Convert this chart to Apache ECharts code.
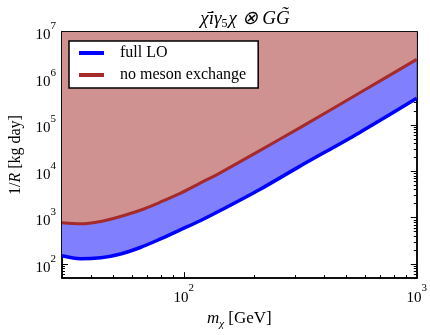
<!DOCTYPE html>
<html>
<head>
<meta charset="utf-8">
<script src="https://cdn.jsdelivr.net/npm/echarts@6/dist/echarts.min.js"></script>
<style>
  html, body { margin: 0; padding: 0; background: #fff; }
  #chart { width: 430px; height: 335px; }
</style>
</head>
<body>
<div id="chart"></div>
<script>
// dark matter mass [GeV]
const mass = [30, 36, 44, 53, 65, 79, 96, 117, 142, 211, 313, 565, 1000]
// 1/R [kg day]
const fullLO = [151, 130, 137, 163, 228, 345, 540, 850, 1390, 4000, 12600, 67000, 372000]
const noMeson = [776, 740, 830, 1050, 1445, 2150, 3300, 5500, 9020, 27500, 85000, 479000, 2570000]

const xMajor = [100, 1000]
const yMajor = [100, 1000, 10000, 100000, 1000000, 10000000]
const xMin = 30, xMax = 1000
const yMin = 50, yMax = 10000000

const serif = "Liberation Serif"

// minor ticks at 2..9 of each decade
function minors(lo, hi){
    let out = []
    for (let d = Math.floor(Math.log10(lo)); d <= Math.ceil(Math.log10(hi)); d++){
        for (let k = 2; k <= 9; k++){
            let v = k * Math.pow(10, d)
            if (v >= lo && v <= hi) out.push(v)
        }
    }
    return out
}

const lg = v => Math.log10(v)

const labelRich = {
    b: { fontFamily: serif, fontSize: 15, color: "#000", lineHeight: 22, verticalAlign: "bottom" },
    e: { fontFamily: serif, fontSize: 11, color: "#000", lineHeight: 12, verticalAlign: "top" }
}

// axes drawn in log10 space, only for the frame, ticks and labels
function tickAxis(dim, pos, ticks, len, labels){
    let lo = dim === "x" ? lg(xMin) : lg(yMin)
    let hi = dim === "x" ? lg(xMax) : lg(yMax)
    return {
        type: "value",
        position: pos,
        min: lo,
        max: hi,
        axisLine: { show: true, lineStyle: { color: "#000", width: 1.5 } },
        axisTick: {
            show: true,
            inside: true,
            length: len,
            customValues: ticks.map(lg),
            lineStyle: { color: "#000", width: 1 }
        },
        axisLabel: labels ? {
            show: true,
            customValues: labels.map(lg),
            margin: dim === "x" ? 5 : 6,
            formatter: v => "{b|10}{e|" + Math.round(v) + "}",
            rich: labelRich
        } : { show: false },
        splitLine: { show: false }
    }
}

let myChart = echarts.init(document.getElementById("chart"), null, { renderer: "canvas" })

let xAxes = [
    { type: "log", min: xMin, max: xMax, show: false },
    Object.assign(tickAxis("x", "bottom", xMajor, 6, xMajor), {
        name: "{i|m}{s|χ}{n| [GeV]}",
        nameLocation: "middle",
        nameGap: 28,
        nameTextStyle: {
            rich: {
                i: { fontFamily: serif, fontStyle: "italic", fontSize: 17, color: "#000", lineHeight: 20, verticalAlign: "top" },
                s: { fontFamily: serif, fontStyle: "italic", fontSize: 11, color: "#000", lineHeight: 10, verticalAlign: "bottom" },
                n: { fontFamily: serif, fontSize: 17, color: "#000", lineHeight: 20, verticalAlign: "top" }
            }
        }
    }),
    tickAxis("x", "bottom", minors(xMin, xMax), 3),
    tickAxis("x", "top", xMajor, 6),
    tickAxis("x", "top", minors(xMin, xMax), 3)
]

let yAxes = [
    { type: "log", min: yMin, max: yMax, show: false },
    Object.assign(tickAxis("y", "left", yMajor, 6, yMajor), {
        name: "1/{i|R} [kg day]",
        nameLocation: "middle",
        nameGap: 38,
        nameRotate: 90,
        nameTextStyle: {
            fontFamily: serif, fontSize: 16, color: "#000",
            rich: { i: { fontFamily: serif, fontStyle: "italic", fontSize: 16, color: "#000" } }
        }
    }),
    tickAxis("y", "left", minors(yMin, yMax), 3),
    tickAxis("y", "right", yMajor, 6),
    tickAxis("y", "right", minors(yMin, yMax), 3)
]

let option = {
    animation: false,
    backgroundColor: "#fff",
    title: {
        text: "{m|χ̄iγ}{s|5}{m|χ ⊗ GG̃}",
        left: 240,
        top: 4,
        textAlign: "center",
        textStyle: {
            fontWeight: "normal",
            rich: {
                m: { fontFamily: serif, fontStyle: "italic", fontWeight: "normal", fontSize: 19, color: "#000", lineHeight: 21, verticalAlign: "top" },
                s: { fontFamily: serif, fontWeight: "normal", fontSize: 12, color: "#000", lineHeight: 10, verticalAlign: "bottom", padding: [0, 1, 0, 0] }
            }
        }
    },
    grid: {
        left: 62,
        right: 11,
        top: 32,
        bottom: 45,
        containLabel: false
    },
    legend: {
        data: ["full LO", "no meson exchange"],
        orient: "vertical",
        left: 69,
        top: 41,
        icon: "rect",
        itemWidth: 25,
        itemHeight: 4,
        itemGap: 6,
        padding: [4, 12, 5, 10],
        backgroundColor: "#fff",
        borderColor: "#000",
        borderWidth: 1.5,
        borderRadius: 0,
        textStyle: {
            fontFamily: serif,
            fontSize: 16,
            color: "#000",
            padding: [0, 0, 0, 11]
        }
    },
    xAxis: xAxes,
    yAxis: yAxes,
    series: [
        {
            name: "full LO",
            type: "line",
            xAxisIndex: 0,
            yAxisIndex: 0,
            color: "#0000ff",
            smooth: 0.3,
            showSymbol: false,
            symbol: "none",
            lineStyle: { color: "#0000ff", width: 3.5 },
            areaStyle: { origin: "end", color: "#8080ff", opacity: 1 },
            z: 2,
            data: mass.map((m, i) => [m, fullLO[i]])
        },
        {
            name: "no meson exchange",
            type: "line",
            xAxisIndex: 0,
            yAxisIndex: 0,
            color: "#a52a2a",
            smooth: 0.3,
            showSymbol: false,
            symbol: "none",
            lineStyle: { color: "#a52a2a", width: 3 },
            areaStyle: { origin: "end", color: "#d09191", opacity: 1 },
            z: 3,
            data: mass.map((m, i) => [m, noMeson[i]])
        }
    ]
}
myChart.setOption(option)
</script>
</body>
</html>
